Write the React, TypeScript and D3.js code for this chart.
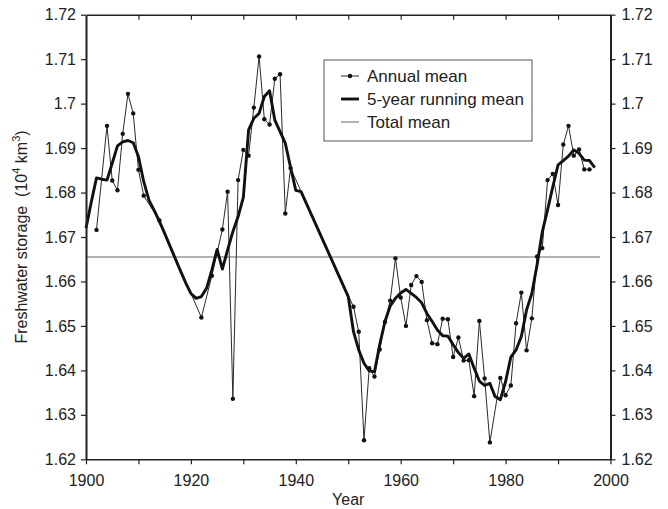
import { useEffect, useRef } from "react";
import * as d3 from "d3";

// annual mean (years with a marker)
const annualYears = [
  1902, 1904, 1905, 1906, 1907, 1908, 1909, 1910, 1911, 1914, 1922, 1924, 1926, 1927, 1928, 1929,
  1930, 1931, 1932, 1933, 1934, 1935, 1936, 1937, 1938, 1939, 1951, 1952, 1953, 1954, 1955, 1956,
  1957, 1958, 1959, 1960, 1961, 1962, 1963, 1964, 1965, 1966, 1967, 1968, 1969, 1970, 1971, 1972,
  1973, 1974, 1975, 1976, 1977, 1979, 1980, 1981, 1982, 1983, 1984, 1985, 1986, 1987, 1988, 1989,
  1990, 1991, 1992, 1993, 1994, 1995, 1996,
];
const annualValues = [
  1.6716, 1.695, 1.6827, 1.6805, 1.6932, 1.7022, 1.6978, 1.6851, 1.6793, 1.6737, 1.6519, 1.6613,
  1.6717, 1.6802, 1.6336, 1.6828, 1.6896, 1.6883, 1.6991, 1.7106, 1.6965, 1.6953, 1.7056, 1.7066,
  1.6753, 1.6855, 1.6543, 1.6487, 1.6243, 1.6405, 1.6386, 1.6447, 1.6509, 1.6557, 1.6652, 1.6564,
  1.65, 1.6592, 1.6612, 1.6599, 1.6513, 1.6461, 1.6459, 1.6516, 1.6515, 1.643, 1.6474, 1.6422,
  1.6423, 1.6342, 1.6511, 1.6382, 1.6238, 1.6383, 1.6344, 1.6366, 1.6506, 1.6575, 1.6445, 1.6517,
  1.6656, 1.6675, 1.6828, 1.6842, 1.6772, 1.6908, 1.695, 1.6883, 1.6897, 1.6852, 1.6852,
];

// 5-year running mean
const runningYears = [
  1900, 1901, 1902, 1903, 1904, 1905, 1906, 1907, 1908, 1909, 1910, 1911, 1912, 1913, 1914, 1915,
  1916, 1917, 1918, 1919, 1920, 1921, 1922, 1923, 1924, 1925, 1926, 1927, 1928, 1929, 1930, 1931,
  1932, 1933, 1934, 1935, 1936, 1937, 1938, 1939, 1940, 1941, 1950, 1951, 1952, 1953, 1954, 1955,
  1956, 1957, 1958, 1959, 1960, 1961, 1962, 1963, 1964, 1965, 1966, 1967, 1968, 1969, 1970, 1971,
  1972, 1973, 1974, 1975, 1976, 1977, 1978, 1979, 1980, 1981, 1982, 1983, 1984, 1985, 1986, 1987,
  1988, 1989, 1990, 1991, 1992, 1993, 1994, 1995, 1996, 1997,
];
const runningValues = [
  1.672, 1.6778, 1.6833, 1.683, 1.6828, 1.6866, 1.6905, 1.6914, 1.6917, 1.6912, 1.6881, 1.6825,
  1.6783, 1.676, 1.6735, 1.6708, 1.668, 1.6652, 1.6624, 1.6597, 1.6573, 1.6562, 1.6566, 1.6585,
  1.6626, 1.6672, 1.6628, 1.6671, 1.6712, 1.6746, 1.6789, 1.6941, 1.6967, 1.6978, 1.7016, 1.7029,
  1.6963, 1.6937, 1.6911, 1.6857, 1.6805, 1.6802, 1.6566, 1.6487, 1.6446, 1.6416, 1.6399, 1.6397,
  1.6458, 1.651, 1.6545, 1.6562, 1.6574, 1.6582, 1.6573, 1.6564, 1.6552, 1.6528, 1.651, 1.6491,
  1.6478, 1.6477, 1.6458, 1.644, 1.6427, 1.6437, 1.6405, 1.6376, 1.6366, 1.6371, 1.6341, 1.6334,
  1.6375, 1.643, 1.6446, 1.6476, 1.6536, 1.6573, 1.6637, 1.6712, 1.6761, 1.6813, 1.6862, 1.6872,
  1.6882, 1.6896, 1.6888, 1.6873, 1.6872, 1.6856,
];

const totalMean = 1.6655;
const totalMeanSpan = [1900, 1998];

const yTicks = [1.62, 1.63, 1.64, 1.65, 1.66, 1.67, 1.68, 1.69, 1.7, 1.71, 1.72];
const xTicks = [1900, 1910, 1920, 1930, 1940, 1950, 1960, 1970, 1980, 1990, 2000];
const xLabels = [1900, 1920, 1940, 1960, 1980, 2000];

const legendItems = ["Annual mean", "5-year running mean", "Total mean"];

const FONT = "'Liberation Sans', Arial, Helvetica, sans-serif";

export default function App() {
  const svgRef = useRef<SVGSVGElement | null>(null);

  useEffect(() => {
    if (!svgRef.current) return;
    const svg = d3.select(svgRef.current);
    svg.selectAll("*").remove();

    const left = 86, right = 610.5, top = 14.7, bottom = 459.3;
    const x = d3.scaleLinear().domain([1900, 2000]).range([left, right]);
    const y = d3.scaleLinear().domain([1.62, 1.72]).range([bottom, top]);
    const fmt = (v: number) => String(+v.toFixed(2));

    // total mean
    svg
      .append("line")
      .attr("x1", x(totalMeanSpan[0]))
      .attr("x2", x(totalMeanSpan[1]))
      .attr("y1", y(totalMean))
      .attr("y2", y(totalMean))
      .attr("stroke", "#9a9a9a")
      .attr("stroke-width", 1.5);

    const annual = annualYears.map((yr, i) => [yr, annualValues[i]] as [number, number]);
    const running = runningYears.map((yr, i) => [yr, runningValues[i]] as [number, number]);
    const line = d3
      .line<[number, number]>()
      .x(d => x(d[0]))
      .y(d => y(d[1]));

    svg
      .append("path")
      .attr("d", line(annual))
      .attr("fill", "none")
      .attr("stroke", "#2a2a2a")
      .attr("stroke-width", 1);

    svg
      .selectAll("circle.pt")
      .data(annual)
      .enter()
      .append("circle")
      .attr("class", "pt")
      .attr("cx", d => x(d[0]))
      .attr("cy", d => y(d[1]))
      .attr("r", 2.2)
      .attr("fill", "#111");

    svg
      .append("path")
      .attr("d", line(running))
      .attr("fill", "none")
      .attr("stroke", "#111")
      .attr("stroke-width", 2.9)
      .attr("stroke-linejoin", "round");

    // axes
    const styleAxis = (g: d3.Selection<SVGGElement, unknown, null, undefined>, w: number) => {
      g.select(".domain").attr("stroke", "#222").attr("stroke-width", w);
      g.selectAll(".tick line").attr("stroke", "#222").attr("stroke-width", 1.2);
      g.selectAll(".tick text")
        .attr("fill", "#222")
        .style("font-family", FONT)
        .style("font-size", "16px");
    };

    const gl = svg
      .append("g")
      .attr("transform", `translate(${left},0)`)
      .call(d3.axisLeft(y).tickValues(yTicks).tickFormat(d => fmt(+d)).tickSize(5).tickSizeOuter(0).tickPadding(5));
    styleAxis(gl, 2);

    const gr = svg
      .append("g")
      .attr("transform", `translate(${right},0)`)
      .call(d3.axisRight(y).tickValues(yTicks).tickFormat(d => fmt(+d)).tickSize(5).tickSizeOuter(0).tickPadding(6));
    styleAxis(gr, 2);

    const gb = svg
      .append("g")
      .attr("transform", `translate(0,${bottom})`)
      .call(
        d3
          .axisBottom(x)
          .tickValues(xTicks)
          .tickFormat(d => (xLabels.includes(+d) ? String(d) : ""))
          .tickSize(5)
          .tickSizeOuter(0)
          .tickPadding(10)
      );
    styleAxis(gb, 1.6);

    const gt = svg
      .append("g")
      .attr("transform", `translate(0,${top})`)
      .call(d3.axisBottom(x).tickValues(xTicks.slice(1, -1)).tickFormat(() => "").tickSize(5).tickSizeOuter(0));
    styleAxis(gt, 1.4);

    // axis titles
    svg
      .append("text")
      .attr("x", (left + right) / 2)
      .attr("y", 505)
      .attr("text-anchor", "middle")
      .attr("fill", "#222")
      .style("font-family", FONT)
      .style("font-size", "16px")
      .text("Year");

    const yt = svg
      .append("text")
      .attr("transform", `translate(27,${(top + bottom) / 2}) rotate(-90)`)
      .attr("text-anchor", "middle")
      .attr("fill", "#222")
      .style("font-family", FONT)
      .style("font-size", "16px")
      .style("white-space", "pre");
    yt.append("tspan").text("Freshwater storage  (10");
    yt.append("tspan").attr("dy", -7).style("font-size", "11px").text("4");
    yt.append("tspan").attr("dy", 7).text(" km");
    yt.append("tspan").attr("dy", -7).style("font-size", "11px").text("3");
    yt.append("tspan").attr("dy", 7).text(")");

    // legend
    const lg = svg.append("g");
    lg.append("rect")
      .attr("x", 324)
      .attr("y", 60)
      .attr("width", 208)
      .attr("height", 81)
      .attr("fill", "#fff")
      .attr("stroke", "#555")
      .attr("stroke-width", 1);

    const rowY = d3.scalePoint<string>().domain(legendItems).range([76, 122]);
    legendItems.forEach((label, i) => {
      const yy = rowY(label) as number;
      lg.append("line")
        .attr("x1", 341)
        .attr("x2", 359)
        .attr("y1", yy)
        .attr("y2", yy)
        .attr("stroke", i === 0 ? "#2a2a2a" : i === 1 ? "#111" : "#9a9a9a")
        .attr("stroke-width", i === 0 ? 1 : i === 1 ? 2.9 : 1.5);
      if (i === 0) {
        lg.append("circle").attr("cx", 350).attr("cy", yy).attr("r", 2.2).attr("fill", "#111");
      }
      lg.append("text")
        .attr("x", 367)
        .attr("y", yy)
        .attr("dy", "0.35em")
        .attr("fill", "#222")
        .style("font-family", FONT)
        .style("font-size", "17px")
        .text(label);
    });
  }, []);

  return (
    <svg
      ref={svgRef}
      width={668}
      height={509}
      style={{ position: "absolute", left: 0, top: 0, background: "#fff" }}
    />
  );
}
